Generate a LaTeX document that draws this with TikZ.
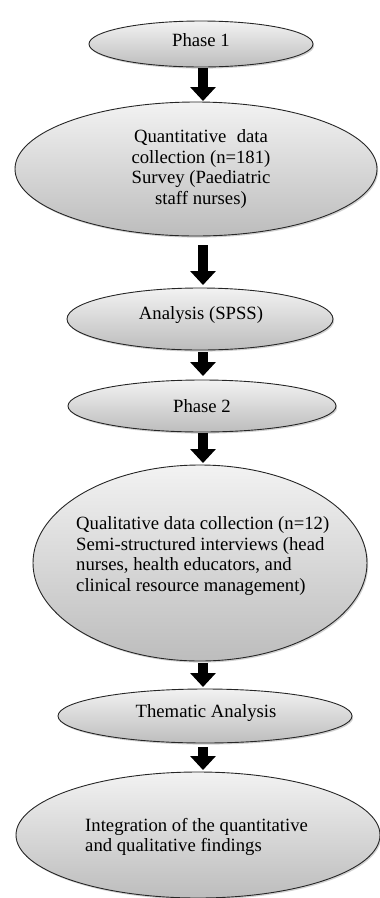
\documentclass[tikz,border=0pt]{standalone}
\usepackage{fontspec}
\setmainfont{Liberation Serif}
\usetikzlibrary{shapes.geometric,arrows.meta,shadows}

\tikzset{
  stage/.style={ellipse, draw=black!85, line width=0.9pt, inner sep=0pt, outer sep=0pt,
    top color=white!95!black, bottom color=white!74!black,
    drop shadow={shadow xshift=1.2pt, shadow yshift=-1.6pt, fill=black!40, opacity=0.45}},
  caption/.style={font=\fontsize{18.7}{20.7}\selectfont, text=black, inner sep=0pt},
  flow/.style={line width=10pt, -{Triangle[width=25pt,length=14pt]}, draw=black}
}

\begin{document}
\begin{tikzpicture}[x=1pt, y=-1pt]
  \useasboundingbox (0,0) rectangle (380,898);

  % stages of the study
  \node[stage, minimum width=224pt, minimum height=46pt]  (p1)   at (201,44)  {};
  \node[stage, minimum width=362pt, minimum height=134pt] (quan) at (196,169) {};
  \node[stage, minimum width=266pt, minimum height=62pt]  (spss) at (200,319) {};
  \node[stage, minimum width=268pt, minimum height=52pt]  (p2)   at (202,406) {};
  \node[stage, minimum width=334pt, minimum height=196pt] (qual) at (200,563) {};
  \node[stage, minimum width=294pt, minimum height=54pt]  (them) at (205,716) {};
  \node[stage, minimum width=364pt, minimum height=126pt] (intg) at (198,835) {};

  % labels
  \node[caption] at (201,40) {Phase 1};
  \node[caption, align=center] at (201,169) {Quantitative\hspace{0.55em}data\\collection (n=181)\\Survey (Paediatric\\staff nurses)};
  \node[caption] at (201,315) {Analysis (SPSS)};
  \node[caption] at (202,406) {Phase 2};
  \node[caption, align=left, anchor=west] at (76,556) {Qualitative data collection (n=12)\\Semi-structured interviews (head\\nurses, health educators, and\\clinical resource management)};
  \node[caption] at (206,713) {Thematic Analysis};
  \node[caption, align=left, anchor=west] at (85,837) {Integration of the quantitative\\and qualitative findings};

  % arrows between stages
  \coordinate (ax) at (203,0);
  \draw[flow, shorten <=1pt, shorten >=1pt] (p1.south -| ax)   -- (quan.north -| ax);
  \draw[flow, shorten <=9pt, shorten >=3pt] (quan.south -| ax) -- (spss.north -| ax);
  \draw[flow, shorten <=2pt, shorten >=4pt] (spss.south -| ax) -- (p2.north -| ax);
  \draw[flow, shorten <=1pt, shorten >=2pt] (p2.south -| ax)   -- (qual.north -| ax);
  \draw[flow, shorten <=2pt, shorten >=2pt] (qual.south -| ax) -- (them.north -| ax);
  \draw[flow, shorten <=4pt, shorten >=2pt] (them.south -| ax) -- (intg.north -| ax);
\end{tikzpicture}
\end{document}
